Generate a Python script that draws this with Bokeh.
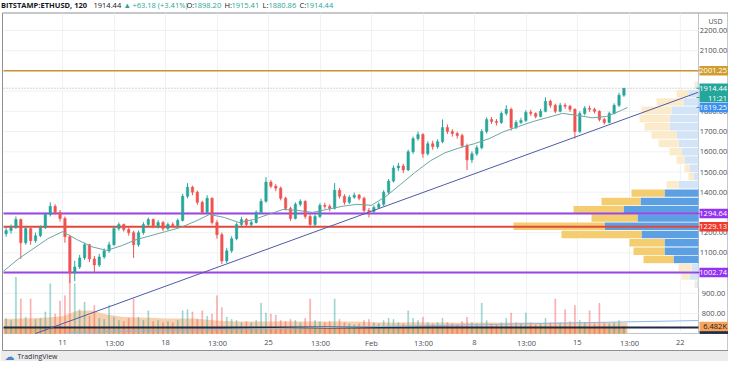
import numpy as np
from bokeh.plotting import figure
from bokeh.models import ColumnDataSource, Range1d
from bokeh.core.properties import value
from bokeh.embed import file_html
from bokeh.resources import INLINE

# ---------------- data ----------------
# x values are hours since 2021-01-01 00:00; candles are 8-hour bars from Jan 7 00:00
candle_start_hour = 144
candle_hours = 8
first_open = 1195.0
closes = [1210, 1225, 1265, 1150, 1220, 1160, 1185, 1225, 1290, 1330,
          1300, 1270, 1180, 1000, 1030, 1075, 1140, 1070, 1040, 1080,
          1110, 1140, 1220, 1240, 1215, 1200, 1140, 1200, 1240, 1265,
          1230, 1250, 1220, 1240, 1235, 1260, 1380, 1425, 1400, 1350,
          1300, 1370, 1250, 1190, 1060, 1110, 1170, 1240, 1265, 1240,
          1250, 1300, 1355, 1450, 1430, 1420, 1370, 1320, 1270, 1340,
          1355, 1280, 1240, 1280, 1335, 1330, 1320, 1410, 1380, 1350,
          1375, 1385, 1370, 1310, 1305, 1325, 1340, 1400, 1455, 1520,
          1530, 1510, 1600, 1665, 1685, 1590, 1640, 1625, 1650, 1720,
          1700, 1690, 1680, 1630, 1560, 1590, 1620, 1700, 1760, 1750,
          1745, 1790, 1810, 1720, 1745, 1755, 1795, 1790, 1775, 1800,
          1850, 1830, 1800, 1830, 1825, 1810, 1700, 1790, 1815, 1810,
          1800, 1760, 1745, 1790, 1830, 1880, 1914.44]
highs = [1228, 1240, 1280, 1270, 1228, 1225, 1200, 1235, 1300, 1350,
         1340, 1312, 1280, 1190, 1060, 1090, 1150, 1145, 1085, 1095,
         1122, 1155, 1232, 1250, 1245, 1225, 1210, 1210, 1252, 1275,
         1270, 1262, 1258, 1250, 1252, 1270, 1392, 1445, 1432, 1408,
         1358, 1385, 1375, 1262, 1200, 1125, 1182, 1250, 1278, 1272,
         1262, 1310, 1368, 1475, 1460, 1440, 1428, 1378, 1328, 1350,
         1365, 1360, 1290, 1290, 1345, 1348, 1340, 1445, 1420, 1390,
         1385, 1398, 1392, 1378, 1322, 1335, 1350, 1410, 1465, 1532,
         1545, 1540, 1610, 1675, 1700, 1692, 1652, 1655, 1662, 1760,
         1735, 1712, 1700, 1690, 1640, 1602, 1632, 1712, 1770, 1772,
         1762, 1800, 1830, 1818, 1756, 1768, 1806, 1808, 1795, 1812,
         1870, 1858, 1838, 1842, 1840, 1832, 1815, 1800, 1826, 1828,
         1818, 1805, 1768, 1798, 1840, 1892, 1915.41]
lows = [1180, 1195, 1218, 1070, 1140, 1140, 1150, 1178, 1218, 1280,
        1290, 1255, 1150, 950, 960, 1020, 1065, 1055, 1000, 1030,
        1070, 1100, 1135, 1210, 1205, 1185, 1075, 1130, 1190, 1232,
        1222, 1220, 1208, 1212, 1225, 1228, 1255, 1370, 1385, 1338,
        1290, 1295, 1240, 1170, 1045, 1050, 1100, 1162, 1230, 1228,
        1232, 1245, 1292, 1348, 1420, 1405, 1360, 1310, 1258, 1265,
        1330, 1268, 1225, 1232, 1272, 1318, 1305, 1315, 1368, 1338,
        1342, 1368, 1360, 1300, 1275, 1295, 1318, 1332, 1392, 1448,
        1505, 1495, 1505, 1590, 1655, 1570, 1582, 1610, 1615, 1642,
        1688, 1675, 1665, 1620, 1510, 1545, 1580, 1612, 1690, 1738,
        1730, 1738, 1780, 1705, 1712, 1738, 1748, 1778, 1765, 1770,
        1795, 1818, 1790, 1795, 1812, 1798, 1665, 1692, 1780, 1798,
        1790, 1750, 1735, 1740, 1785, 1822, 1872]
volumes_k = [14, 12, 52, 32, 15, 32, 13, 14, 20, 46,
             18, 30, 35, 58, 46, 22, 29, 16, 26, 14,
             13, 26, 15, 12, 11, 14, 32, 15, 12, 21,
             11, 12, 10, 11, 10, 12, 21, 22, 20, 13,
             21, 16, 18, 35, 24, 15, 13, 12, 10, 11,
             10, 12, 28, 19, 18, 17, 12, 11, 13, 12,
             10, 14, 32, 12, 11, 10, 11, 32, 13, 10,
             9, 8, 9, 12, 13, 10, 9, 12, 14, 13,
             10, 9, 21, 14, 12, 15, 10, 9, 10, 14,
             10, 9, 8, 11, 15, 10, 9, 28, 12, 9,
             8, 10, 14, 19, 10, 9, 19, 10, 8, 9,
             14, 10, 32, 10, 22, 11, 26, 12, 10, 21,
             9, 28, 10, 9, 10, 12, 6.482]

ma_hours = [144, 168, 192, 216, 240, 264, 288, 312, 336, 360, 384, 408, 432, 456, 480,
            504, 528, 552, 576, 600, 624, 648, 672, 696, 720, 744, 768, 792, 816, 840,
            864, 888, 912, 936, 960, 984, 1008, 1032, 1056, 1080, 1104, 1128, 1152, 1162]
ma_values = [1010, 1070, 1120, 1170, 1205, 1165, 1130, 1112, 1135, 1165, 1185, 1205, 1225,
             1255, 1290, 1275, 1250, 1265, 1290, 1315, 1310, 1300, 1315, 1330, 1340, 1335,
             1380, 1440, 1500, 1555, 1595, 1620, 1640, 1665, 1700, 1725, 1750, 1770, 1790,
             1780, 1768, 1775, 1805, 1819.25]
# volume moving average (K), same sample points
volma_values = [13.5, 13.9, 14.2, 14.8, 16.0, 21.0, 21.3, 17.5, 15.5, 14.8, 14.5, 14.0, 13.9,
                13.9, 12.5, 11.5, 11.2, 11.1, 11.2, 11.3, 11.1, 11.0, 11.0, 11.1, 11.0, 10.5,
                10.3, 10.2, 10.4, 10.3, 10.2, 10.0, 10.2, 10.1, 10.0, 10.2, 10.3, 10.1, 10.2,
                10.4, 10.3, 10.2, 10.1, 10.0]
volume_base_level = 5.5

# drawn objects
trend_hours = [196, 1277]
trend_prices = [701, 1894]
vol_trend_hours = [247, 1277]
vol_trend_values = [1.0, 12.0]
last_price = 1914.44
ma_last = 1819.25
level_prices = [2001.25, 1294.64, 1229.13, 1002.74]
countdown = "11:21"

# volume profile (visible range), bins of 41 USD
vp_low = [924, 965, 1006, 1047, 1088, 1129, 1170, 1211, 1252, 1293, 1334, 1375, 1416,
          1457, 1498, 1539, 1580, 1621, 1662, 1703, 1744, 1785, 1826, 1867, 1908]
vp_up = [2, 9, 7, 25, 34, 34, 57, 94, 61, 75, 58, 34, 20, 5, 9, 14, 17, 20, 22, 29, 29, 27, 15, 10, 2]
vp_down = [2, 8, 13, 30, 31, 35, 80, 91, 46, 50, 39, 33, 12, 5, 5, 8, 12, 20, 25, 25, 30, 30, 27, 12, 2]
vp_step = 41
value_area = (1047, 1416)

price_ticks = [800, 900, 1000, 1100, 1200, 1300, 1400, 1500, 1600, 1700, 1800, 1900, 2000, 2100, 2200]
time_ticks = [240, 325, 408, 493, 576, 661, 744, 829, 912, 997, 1080, 1165, 1248]
time_labels = ["11", "13:00", "18", "13:00", "25", "13:00", "Feb", "13:00", "8", "13:00", "15", "13:00", "22"]

header_texts = ["1914.44", "\u25b2", "+63.18 (+3.41%)", "O:", "1898.20", "H:", "1915.41",
                "L:", "1880.86", "C:", "1914.44"]
header_kinds = ["plain", "up", "up", "plain", "up", "plain", "up", "plain", "up", "plain", "up"]
symbol_text = "BITSTAMP:ETHUSD, 120"

# ---------------- layout (figure pixels) ----------------
W, H = 728, 361
PL, PR, PT, PB = 3, 698, 13, 333      # price pane edges
AX_R = 727.5                          # right border of price scale
BOT = 350                             # bottom border


def X(px):
    return 240 + (px - 62) * 24 / 14.71


def Y(py):
    return 2200 - (py - 30) * 1400 / 283


VOL_PX = 1.08
HOURS_PER_PX = 24 / 14.71
UP, DOWN = "#26a69a", "#ef5350"
FONT = "Open Sans"
TXT = "#4a4d55"

p = figure(width=W, height=H, x_range=Range1d(X(0), X(W)), y_range=Range1d(Y(H), Y(0)),
           x_axis_location=None, y_axis_location=None, toolbar_location=None,
           output_backend="svg", min_border=0, title=None)
p.extra_y_ranges = {"vol": Range1d(-(H - PB) / VOL_PX, PB / VOL_PX)}
p.background_fill_color = "white"
p.border_fill_color = "white"
p.outline_line_color = None
for g in p.grid:
    g.visible = False

# footer band and frame lines
p.quad(left=X(0), right=X(W), bottom=Y(H), top=Y(BOT), fill_color="#ececec", line_color=None)
p.segment(x0=[X(PR), X(PL)], y0=[Y(PT), Y(PB)], x1=[X(PR), X(PR)], y1=[Y(PB), Y(PB)],
          line_color="#c2c4ca", line_width=1)
p.segment(x0=[X(2), X(2), X(2), X(AX_R)], y0=[Y(12.5), Y(12.5), Y(BOT), Y(12.5)],
          x1=[X(AX_R), X(2), X(AX_R), X(AX_R)], y1=[Y(12.5), Y(BOT), Y(BOT), Y(BOT)],
          line_color="#8e9096", line_width=1)

# grid
p.segment(x0=time_ticks, x1=time_ticks, y0=Y(PT), y1=Y(PB), line_color="#f0f1f4", line_width=1)
p.segment(x0=X(PL), x1=X(PR), y0=price_ticks, y1=price_ticks, line_color="#f0f1f4", line_width=1)

# ---- volume ----
n = len(closes)
centers = [candle_start_hour + candle_hours * (i + 0.5) for i in range(n)]
opens = [first_open] + closes[:-1]
up = [c >= o for o, c in zip(opens, closes)]

p.varea(x=ma_hours, y1=0, y2=volma_values, y_range_name="vol", fill_color="#f7c9a3", fill_alpha=0.85)
p.quad(left=X(PL), right=centers[-1] + 4, bottom=0, top=volume_base_level, y_range_name="vol",
       fill_color="#f2a56e", fill_alpha=0.75, line_color=None)
vsrc = ColumnDataSource(dict(x=centers, top=volumes_k,
                             color=[UP if u else DOWN for u in up]))
p.vbar(x="x", top="top", bottom=0, width=1.6, color="color", alpha=0.28, source=vsrc,
       y_range_name="vol")
p.segment(x0=X(PL), x1=X(PR), y0=volume_base_level, y1=volume_base_level, y_range_name="vol",
          line_color="#1f2a44", line_width=2)
p.line(vol_trend_hours, vol_trend_values, y_range_name="vol", line_color="#8db9ea", line_width=1)

# ---- volume profile ----
va_lo, va_hi = value_area
x_right = X(PR)
rows = dict(y=[], mid=[], left=[], cu=[], cd=[])
for lo_, u_, d_ in zip(vp_low, vp_up, vp_down):
    inside = va_lo <= lo_ < va_hi
    rows["y"].append(lo_ + vp_step / 2)
    rows["mid"].append(x_right - u_ * HOURS_PER_PX)
    rows["left"].append(x_right - (u_ + d_) * HOURS_PER_PX)
    rows["cu"].append("#5c9fe3" if inside else "#d3e4f6")
    rows["cd"].append("#f3cd6f" if inside else "#fbebcb")
vp_src = ColumnDataSource(rows)
p.hbar(y="y", left="mid", right=x_right, height=vp_step - 4, fill_color="cu",
       line_color=None, source=vp_src)
p.hbar(y="y", left="left", right="mid", height=vp_step - 4, fill_color="cd",
       line_color=None, source=vp_src)

# ---- horizontal levels ----
level_colors = ["#c99632", "#9b45e4", "#e2483d", "#9b45e4"]
level_widths = [1.5, 2, 2, 2]
p.segment(x0=X(PL), x1=X(PR), y0=level_prices, y1=level_prices,
          line_color=level_colors, line_width=level_widths)
p.segment(x0=X(PL), x1=X(PR), y0=last_price, y1=last_price, line_color="#a9acb4",
          line_width=1, line_dash="1 2")

# ---- candles ----
csrc = ColumnDataSource(dict(x=centers, hi=highs, lo=lows,
                             top=[max(o, c) for o, c in zip(opens, closes)],
                             bot=[min(o, c) for o, c in zip(opens, closes)],
                             color=[UP if u else DOWN for u in up]))
p.segment(x0="x", y0="lo", x1="x", y1="hi", color="color", line_width=1, source=csrc)
p.vbar(x="x", top="top", bottom="bot", width=4.0, fill_color="color", line_color="color",
       line_width=0.5, source=csrc)

# ---- MA and trend line ----
p.line(ma_hours, ma_values, line_color="#6aa6a3", line_width=1)
p.line(trend_hours, trend_prices, line_color="#4f5aa8", line_width=1)

# ---- price scale labels ----
p.text(x=X(713), y=price_ticks, text=[f"{t:.2f}" for t in price_ticks], text_align="center",
       text_baseline="middle", text_font=value(FONT), text_font_size=value("7.5px"),
       text_color=TXT)
p.text(x=[X(715)], y=[Y(20.5)], text=["USD"], text_align="center", text_baseline="middle",
       text_font=value(FONT), text_font_size=value("7px"), text_color=TXT)

# ---- time scale labels ----
p.text(x=time_ticks, y=Y(342), text=time_labels, text_align="center", text_baseline="middle",
       text_font=value(FONT), text_font_size=value("7.5px"), text_color=TXT)

# ---- price scale tags ----
tag_y = [level_prices[0], last_price, Y(97), ma_last, level_prices[1], level_prices[2], level_prices[3]]
tag_text = [f"{level_prices[0]:.2f}", f"{last_price:.2f}", countdown, f"{ma_last:.2f}",
            f"{level_prices[1]:.2f}", f"{level_prices[2]:.2f}", f"{level_prices[3]:.2f}"]
tag_bg = ["#d29d2f", "#26a69a", "#26a69a", "#3d8ff0", "#9433f0", "#f03c2e", "#9433f0"]
p.rect(x=X(713.5), y=tag_y, width=29, height=9.5, width_units="screen", height_units="screen",
       fill_color=tag_bg, line_color=None)
p.segment(x0=X(696), x1=X(699), y0=tag_y, y1=tag_y, line_color=tag_bg, line_width=1)
p.text(x=X(726.5), y=tag_y, text=tag_text, text_align="right", text_baseline="middle",
       text_font=value(FONT), text_font_size=value("7.5px"), text_color="white")
# volume tag
p.rect(x=X(713.5), y=[1.0], width=29, height=3, width_units="screen", height_units="screen",
       fill_color="#1f2a44", line_color=None, y_range_name="vol")
p.rect(x=X(713.5), y=[volumes_k[-1]], width=29, height=9.5, width_units="screen",
       height_units="screen", fill_color="#f6a45c", line_color=None, y_range_name="vol")
p.text(x=X(726.5), y=[volumes_k[-1]], text=[f"{volumes_k[-1]:.3f}K"], text_align="right",
       text_baseline="middle", text_font=value(FONT), text_font_size=value("7.5px"),
       text_color="#1c1c1c", y_range_name="vol")

# ---- header ----
header_x = [93, 123, 132, 186, 193, 224, 231, 262, 268, 299, 305]
header_col = ["#131722" if k == "plain" else "#26a69a" for k in header_kinds]
p.text(x=[X(0.5)], y=[Y(4.5)], text=[symbol_text], text_baseline="middle",
       text_font=value(FONT), text_font_size=value("7.5px"), text_font_style="bold",
       text_color="#131722")
p.text(x=[X(v) for v in header_x], y=Y(4.5), text=header_texts, text_baseline="middle",
       text_font=value(FONT), text_font_size=value("7.5px"), text_color=header_col)

# ---- TradingView mark ----
p.text(x=[X(4)], y=[Y(355.5)], text=["\u2601"], text_baseline="middle",
       text_font=value("DejaVu Sans"), text_font_size=value("10px"), text_color="#4a86c8")
p.text(x=[X(17)], y=[Y(355.5)], text=["TradingView"], text_baseline="middle",
       text_font=value(FONT), text_font_size=value("7px"), text_color="#2a2e39")

open("out.html", "w").write(file_html(p, INLINE))
